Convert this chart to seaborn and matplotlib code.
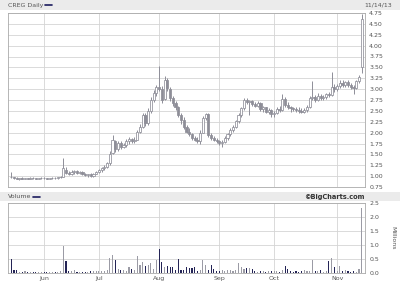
import numpy as np
import pandas as pd
import matplotlib
matplotlib.use("Agg")
import matplotlib.pyplot as plt
from matplotlib.patches import Rectangle
import seaborn as sns

# ---------------- data ----------------
opens = [0.98,0.97,0.95,0.94,0.95,0.94,0.95,0.94,0.96,0.95,0.94,0.95,
         0.96,0.95,0.94,0.95,0.96,0.95,0.97,0.99,1.15,1.08,1.05,1.10,1.12,1.08,1.10,1.04,1.02,1.05,1.00,1.06,
         1.10,1.14,1.18,1.22,1.30,1.54,1.80,1.62,1.76,1.68,1.72,1.80,1.86,1.80,1.84,2.02,2.14,2.40,2.22,2.50,2.76,2.92,
         3.05,3.00,2.78,3.20,3.00,2.80,2.68,2.58,2.40,2.28,2.12,2.02,1.96,1.88,1.84,1.80,2.00,2.34,2.42,1.95,1.88,1.84,
         1.80,1.76,1.78,1.88,1.96,2.06,2.14,2.26,2.40,2.56,2.74,2.70,2.72,2.66,2.62,2.68,2.54,2.58,2.48,2.52,
         2.42,2.46,2.54,2.52,2.78,2.64,2.58,2.56,2.54,2.52,2.50,2.48,2.52,2.60,2.80,2.82,2.76,2.84,2.80,2.82,2.88,2.86,3.06,
         3.00,3.08,3.14,3.10,3.16,3.10,3.06,3.02,3.18,3.52]
highs = [1.10,0.99,0.97,0.96,0.97,0.96,0.96,0.97,0.97,0.96,0.96,0.97,
         0.97,0.96,0.96,0.97,0.97,0.98,1.00,1.42,1.20,1.12,1.14,1.15,1.14,1.12,1.11,1.08,1.06,1.07,1.08,1.12,
         1.16,1.20,1.25,1.32,1.58,1.95,1.84,1.80,1.80,1.76,1.85,1.90,1.88,1.90,2.06,2.20,2.46,2.45,2.56,2.82,2.98,3.10,
         3.53,3.08,3.30,3.25,3.05,2.85,2.72,2.62,2.45,2.35,2.18,2.10,2.00,1.92,1.90,2.05,2.38,2.46,2.44,1.98,1.92,1.88,
         1.84,1.82,1.92,2.00,2.10,2.18,2.30,2.44,2.60,2.80,2.80,2.76,2.76,2.70,2.72,2.70,2.62,2.60,2.56,2.54,
         2.50,2.58,2.62,2.88,2.82,2.70,2.62,2.60,2.60,2.58,2.56,2.56,2.64,2.84,3.18,2.86,2.90,2.88,2.86,2.92,2.94,3.39,3.12,
         3.12,3.20,3.22,3.18,3.20,3.14,3.10,3.22,3.32,4.72]
lows = [0.95,0.94,0.93,0.92,0.93,0.93,0.93,0.93,0.94,0.93,0.93,0.94,
        0.94,0.93,0.93,0.94,0.94,0.94,0.95,0.98,1.05,1.02,1.03,1.06,1.06,1.04,1.02,1.00,0.98,0.99,0.99,1.04,
        1.08,1.10,1.14,1.18,1.26,1.50,1.55,1.58,1.62,1.64,1.68,1.74,1.76,1.76,1.82,1.98,2.10,2.15,2.18,2.46,2.70,2.84,
        2.95,2.68,2.75,2.95,2.72,2.62,2.52,2.35,2.20,2.08,1.98,1.92,1.84,1.80,1.76,1.74,1.98,2.28,1.90,1.84,1.80,1.76,
        1.72,1.68,1.76,1.84,1.92,2.02,2.10,2.22,2.36,2.52,2.66,2.40,2.62,2.58,2.58,2.50,2.48,2.44,2.42,2.36,
        2.36,2.42,2.48,2.50,2.60,2.54,2.48,2.50,2.48,2.46,2.44,2.44,2.48,2.56,2.74,2.70,2.72,2.74,2.74,2.78,2.82,2.84,2.94,
        2.96,3.02,3.06,3.04,3.06,3.00,2.88,3.00,3.14,3.38]
closes = [0.97,0.95,0.94,0.95,0.94,0.95,0.94,0.96,0.95,0.94,0.95,0.96,
          0.95,0.94,0.95,0.96,0.95,0.97,0.98,1.18,1.08,1.05,1.10,1.12,1.08,1.10,1.04,1.02,1.05,1.00,1.06,1.10,
          1.14,1.18,1.22,1.30,1.52,1.82,1.62,1.76,1.68,1.72,1.80,1.86,1.80,1.84,2.02,2.14,2.40,2.22,2.50,2.76,2.92,3.05,
          3.00,2.75,3.20,3.02,2.80,2.68,2.58,2.40,2.28,2.12,2.02,1.96,1.88,1.84,1.80,2.00,2.34,2.42,1.95,1.88,1.84,1.80,
          1.76,1.78,1.88,1.96,2.06,2.14,2.26,2.40,2.56,2.74,2.70,2.72,2.66,2.62,2.68,2.54,2.58,2.48,2.52,2.42,
          2.46,2.54,2.52,2.78,2.64,2.58,2.56,2.54,2.52,2.50,2.48,2.52,2.60,2.80,2.82,2.76,2.84,2.80,2.82,2.88,2.86,3.06,3.00,
          3.08,3.14,3.10,3.16,3.10,3.06,3.02,3.18,3.28,4.62]
volumes = [0.50,0.10,0.12,0.05,0.04,0.06,0.03,0.05,0.04,0.03,0.05,0.04,
           0.04,0.03,0.05,0.03,0.04,0.05,0.06,0.97,0.43,0.08,0.06,0.12,0.05,0.04,0.03,0.05,0.04,0.06,0.08,0.07,
           0.06,0.08,0.06,0.10,0.54,0.64,0.46,0.15,0.10,0.12,0.08,0.20,0.15,0.12,0.60,0.30,0.39,0.25,0.30,0.35,0.15,0.46,
           0.86,0.39,0.20,0.25,0.20,0.22,0.12,0.50,0.10,0.12,0.20,0.18,0.18,0.20,0.08,0.10,0.46,0.30,0.10,0.30,0.15,0.08,
           0.06,0.10,0.08,0.10,0.12,0.08,0.10,0.35,0.22,0.15,0.18,0.18,0.15,0.06,0.05,0.08,0.06,0.05,0.07,0.06,
           0.08,0.06,0.05,0.10,0.25,0.15,0.06,0.05,0.07,0.05,0.06,0.10,0.08,0.06,0.48,0.08,0.06,0.10,0.05,0.08,0.42,0.54,0.20,
           0.08,0.25,0.08,0.10,0.06,0.05,0.08,0.05,0.15,2.33]
price_ticks = [0.75,1.00,1.25,1.50,1.75,2.00,2.25,2.50,2.75,3.00,3.25,3.50,3.75,4.00,4.25,4.50,4.75]
vol_ticks = [0.0,0.5,1.0,1.5,2.0,2.5]
month_labels = ["Jun","Jul","Aug","Sep","Oct","Nov"]

# trading calendar
holidays = pd.to_datetime(["2013-05-27","2013-07-04","2013-09-02"])
dates = pd.bdate_range("2013-05-15","2013-11-14")
dates = dates[~dates.isin(holidays)]
n = len(closes)
dates = dates[:n]
idx = np.arange(n)
month_pos = [int(np.argmax((dates.month == m))) for m in [6,7,8,9,10,11]]

df = pd.DataFrame({"i": idx, "o": opens, "h": highs, "l": lows, "c": closes, "v": volumes})
prev = df["c"].shift(1).fillna(df["o"])
df["dir"] = np.where(df["c"] >= prev, "up", "down")

NAVY = "#1c1c5e"
GRAY = "#9a9aa6"
GRID = "#d4d4d4"
TXT = "#555555"
colmap = {"up": GRAY, "down": NAVY}

sns.set_style("white")
plt.rcParams["font.family"] = ["DejaVu Sans"]

fig = plt.figure(figsize=(4.0, 2.83), dpi=100)
W, H = 400, 283
def fy(p):
    return 1 - p / H

# header bars
fig.patches.append(Rectangle((0, fy(10)), 1, 10 / H, transform=fig.transFigure,
                             facecolor="#ebebeb", edgecolor="none", zorder=0))
fig.patches.append(Rectangle((0, fy(201)), 1, 9 / H, transform=fig.transFigure,
                             facecolor="#ebebeb", edgecolor="none", zorder=0))
fig.text(8 / W, fy(5), "CREG Daily", fontsize=4.5, color=TXT, va="center", ha="left")
fig.add_artist(plt.Line2D([45 / W, 52 / W], [fy(5), fy(5)], color=NAVY, lw=1.2, transform=fig.transFigure))
fig.text(392 / W, fy(5), "11/14/13", fontsize=4.5, color=TXT, va="center", ha="right")
fig.text(8 / W, fy(197), "Volume", fontsize=4.5, color=TXT, va="center", ha="left")
fig.add_artist(plt.Line2D([33 / W, 40 / W], [fy(197), fy(197)], color=NAVY, lw=1.2, transform=fig.transFigure))
fig.text(365 / W, fy(197), "\u00a9BigCharts.com", fontsize=4.8, color="#333333",
         fontweight="bold", va="center", ha="right")

xlim = (-1.2, n + 0.2)

# price panel
axp = fig.add_axes([8 / W, fy(187), (365 - 8) / W, (187 - 13) / H])
axp.set_xlim(*xlim)
axp.set_ylim(0.75, 4.75)
for t in price_ticks:
    axp.axhline(t, color=GRID, lw=0.6, zorder=0)
for m in month_pos:
    axp.axvline(m, color=GRID, lw=0.6, zorder=0)
for _, r in df.iterrows():
    hollow = r["c"] >= r["o"]
    col = NAVY if (hollow and r["dir"] == "down") else "#8e8e98"
    axp.vlines(r["i"], r["l"], r["h"], color=col, lw=0.7, zorder=2)
    lo, hi = min(r["o"], r["c"]), max(r["o"], r["c"])
    hgt = max(hi - lo, 0.012)
    face = "white" if hollow else "#8e8e98"
    axp.bar(r["i"], hgt, bottom=lo, width=0.8, color=face, edgecolor=col, linewidth=0.55, zorder=3)
axp.set_yticks(price_ticks)
axp.set_yticklabels([f"{t:.2f}" for t in price_ticks])
axp.yaxis.tick_right()
axp.tick_params(axis="y", labelsize=4.5, labelcolor=TXT, length=0, pad=3)
axp.set_xticks([])
for s in axp.spines.values():
    s.set_color("#aaaaaa")
    s.set_linewidth(0.6)

# volume panel
axv = fig.add_axes([8 / W, fy(273), (365 - 8) / W, (273 - 203) / H])
for t in vol_ticks:
    axv.axhline(t, color=GRID, lw=0.6, zorder=0)
for m in month_pos:
    axv.axvline(m, color=GRID, lw=0.6, zorder=0)
sns.barplot(data=df, x="i", y="v", hue="dir", palette=colmap, dodge=False,
            width=0.4, legend=False, ax=axv, native_scale=True, zorder=3, linewidth=0)
axv.set_xlim(*xlim)
axv.set_ylim(0, 2.5)
axv.set_xlabel("")
axv.set_ylabel("")
axv.set_yticks(vol_ticks)
axv.set_yticklabels([f"{t:.1f}" for t in vol_ticks])
axv.yaxis.tick_right()
axv.set_xticks(month_pos)
axv.set_xticklabels(month_labels)
axv.tick_params(axis="both", labelsize=4.5, labelcolor=TXT, length=0, pad=2)
axv.tick_params(axis="y", pad=3)
for s in axv.spines.values():
    s.set_color("#aaaaaa")
    s.set_linewidth(0.6)
fig.text(393 / W, fy(238), "Millions", fontsize=4.5, color=TXT, rotation=270,
         va="center", ha="center")

fig.savefig("out.png", dpi=100, facecolor="white")
